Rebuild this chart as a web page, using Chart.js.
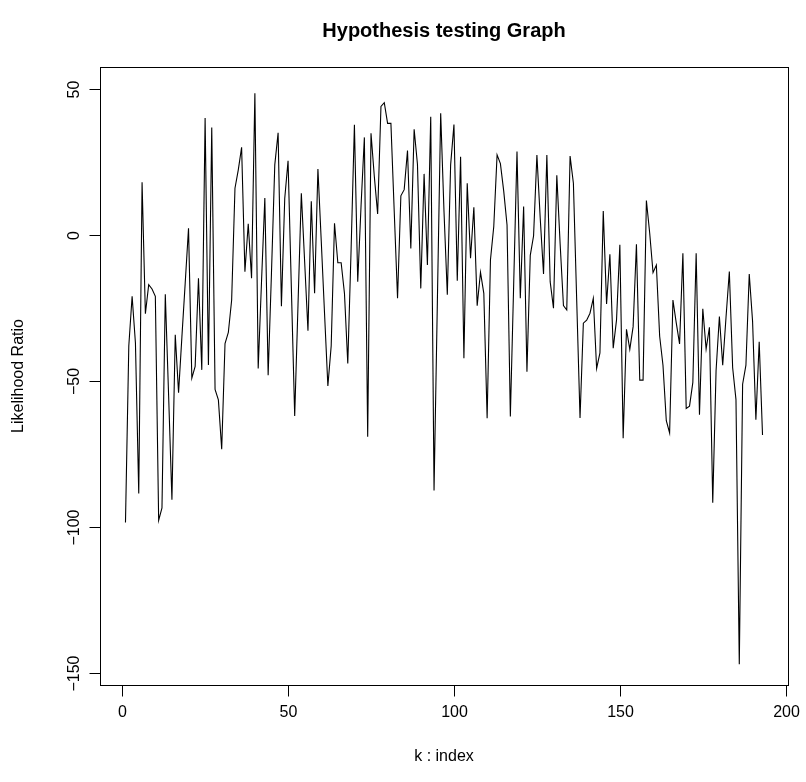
<!DOCTYPE html>
<html>
<head>
<meta charset="utf-8">
<script src="https://cdn.jsdelivr.net/npm/chart.js@4.4.1/dist/chart.umd.min.js"></script>
<style>
  html, body { margin: 0; padding: 0; background: #ffffff; }
  #wrap { width: 806px; height: 782px; }
</style>
</head>
<body>
<div id="wrap"><canvas id="c" width="806" height="782"></canvas></div>
<script>
const chartTitle = "Hypothesis testing Graph";
const xAxisLabel = "k : index";
const yAxisLabel = "Likelihood Ratio";

const likelihoodRatio = [
  -98.5, -38, -21, -37, -88.5, 18, -27, -17, -18.5, -21,
  -97.7, -93.5, -20.3, -55, -90.7, -34.2, -54, -35, -16.5, 2.3,
  -49, -45, -14.8, -46.2, 40, -44.5, 36.8, -52.9, -56.5, -73.4,
  -37.2, -33.4, -22.3, 16, 22.3, 30, -12.6, 3.8, -14.8, 48.5,
  -45.7, -16, 12.6, -48, -13, 24, 35, -24.4, 12.5, 25.4,
  -18.3, -62, -23.9, 14.3, -9.2, -32.8, 11.5, -20, 22.6, -2,
  -27, -51.7, -38, 4, -9.5, -9.5, -20, -44, -5, 37.7,
  -16, 10, 33.4, -69.1, 34.8, 20, 7.2, 44, 45.3, 38.2,
  38.2, 8, -21.7, 13.4, 15.5, 28.9, -4.6, 36.2, 24.2, -18.3,
  20.9, -10.3, 40.5, -87.5, -23, 41.7, 8, -20.5, 24, 37.8,
  -15.7, 26.8, -42.2, 17.7, -8, 9.5, -24.2, -12.8, -20, -62.8,
  -8.6, 2.9, 27.4, 24.4, 15, 3.4, -62.2, -17, 28.6, -21.7,
  9.7, -46.8, -7, -0.3, 27.4, 5.7, -13.4, 27.4, -16, -25.1,
  20.4, -3, -24.2, -25.7, 27, 17.7, -22.5, -62.7, -30.2, -29.2,
  -26.8, -21.7, -45.7, -40.4, 8.2, -23.6, -6.6, -38.8, -29.1, -3.4,
  -69.6, -32.3, -39.2, -31.4, -3.2, -49.7, -49.7, 11.8, 0.6, -12.9,
  -10.3, -34.7, -44.6, -63.6, -67.8, -22.3, -30.1, -37.3, -6.3, -59.4,
  -58.6, -50.5, -6.3, -61.6, -25.3, -39.1, -31.6, -91.7, -46.5, -27.9,
  -44.6, -28.2, -12.5, -45.5, -56.4, -147, -51.1, -44.6, -13.4, -29.5,
  -63.3, -36.6, -68.5
];
const kIndex = likelihoodRatio.map((_, i) => i + 1);

const xTicks = [0, 50, 100, 150, 200];
const xTickLabels = ["0", "50", "100", "150", "200"];
const yTicks = [-150, -100, -50, 0, 50];
const yTickLabels = ["\u2212150", "\u2212100", "\u221250", "0", "50"];

const FONT = "'Liberation Sans', Arial, Helvetica, sans-serif";

const rAxesPlugin = {
  id: 'rAxes',
  afterDraw(chart) {
    const ctx = chart.ctx;
    const a = chart.chartArea;
    const xs = chart.scales.x, ys = chart.scales.y;
    ctx.save();
    ctx.strokeStyle = '#000';
    ctx.fillStyle = '#000';
    ctx.lineWidth = 1;
    ctx.strokeRect(Math.round(a.left) + 0.5, Math.round(a.top) + 0.5,
                   Math.round(a.right - a.left), Math.round(a.bottom - a.top));
    const bottom = Math.round(a.bottom) + 0.5;
    const left = Math.round(a.left) + 0.5;
    const tickLen = 11;
    ctx.font = '16px ' + FONT;
    ctx.textAlign = 'center';
    ctx.textBaseline = 'middle';
    xTicks.forEach((v, i) => {
      const px = Math.round(xs.getPixelForValue(v)) + 0.5;
      ctx.beginPath();
      ctx.moveTo(px, bottom);
      ctx.lineTo(px, bottom + tickLen);
      ctx.stroke();
      ctx.fillText(xTickLabels[i], px, a.bottom + 28);
    });
    yTicks.forEach((v, i) => {
      const py = Math.round(ys.getPixelForValue(v)) + 0.5;
      ctx.beginPath();
      ctx.moveTo(left, py);
      ctx.lineTo(left - tickLen, py);
      ctx.stroke();
      ctx.save();
      ctx.translate(a.left - 25, py);
      ctx.rotate(-Math.PI / 2);
      ctx.fillText(yTickLabels[i], 0, 0);
      ctx.restore();
    });
    const cx = (a.left + a.right) / 2;
    const cy = (a.top + a.bottom) / 2;
    ctx.fillText(xAxisLabel, cx, a.bottom + 72);
    ctx.save();
    ctx.translate(19, cy);
    ctx.rotate(-Math.PI / 2);
    ctx.fillText(yAxisLabel, 0, 0);
    ctx.restore();
    ctx.font = 'bold 20px ' + FONT;
    ctx.fillText(chartTitle, cx, 31);
    ctx.restore();
  }
};

new Chart(document.getElementById('c'), {
  type: 'line',
  data: {
    labels: kIndex,
    datasets: [{
      data: kIndex.map((k, i) => ({ x: k, y: likelihoodRatio[i] })),
      borderColor: '#000000',
      borderWidth: 1.1,
      pointRadius: 0,
      tension: 0,
      fill: false
    }]
  },
  options: {
    responsive: false,
    animation: false,
    devicePixelRatio: 1,
    layout: { padding: { left: 100, top: 67, right: 18, bottom: 97 } },
    plugins: { legend: { display: false }, tooltip: { enabled: false }, title: { display: false } },
    scales: {
      x: { type: 'linear', display: false, min: -6.68, max: 200.68 },
      y: { type: 'linear', display: false, min: -154.1, max: 57.5 }
    }
  },
  plugins: [rAxesPlugin]
});
</script>
</body>
</html>
